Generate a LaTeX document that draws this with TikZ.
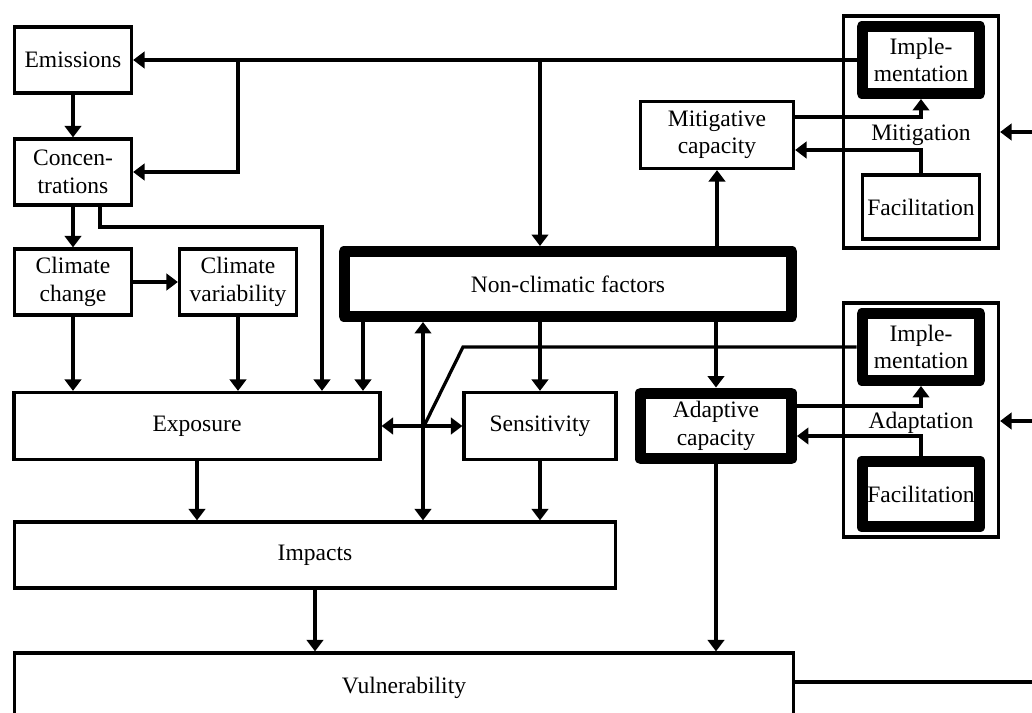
\documentclass[tikz,border=0pt]{standalone}
\usepackage{fontspec}
\setmainfont{Liberation Serif}
\usetikzlibrary{arrows.meta}
\usetikzlibrary{calc}

\begin{document}
\begin{tikzpicture}[x=0.02cm, y=-0.02cm]
\tikzset{
box/.style = {draw, line width=0.065cm, align=center, inner sep=0pt, font=\fontsize{13.4}{15.6}\selectfont},
heavy/.style = {box, line width=0.22cm, line join=round},
group/.style = {draw, line width=0.065cm, minimum width=3.10cm},
label/.style = {inner sep=0pt, font=\fontsize{13.4}{15.6}\selectfont},
line/.style = {draw, line width=0.065cm, -{Triangle[length=0.23cm,width=0.33cm]}},
both/.style = {line, {Triangle[length=0.23cm,width=0.33cm]}-{Triangle[length=0.23cm,width=0.33cm]}},
plain/.style = {draw, line width=0.065cm}
}
\useasboundingbox (0,0) rectangle (1032,713);

     % climate chain
     \node [box, minimum width=2.34cm, minimum height=1.32cm] (emis) at (73,60) {Emissions};
     \node [box, minimum width=2.34cm, minimum height=1.32cm] (conc) at (73,172) {Concen-\\trations};
     \node [box, minimum width=2.34cm, minimum height=1.32cm] (cchange) at (73,282) {Climate\\change};
     \node [box, minimum width=2.34cm, minimum height=1.32cm] (cvar) at (238,282) {Climate\\variability};
     \node [box, minimum width=7.32cm, minimum height=1.34cm] (expo) at (197,426) {Exposure};
     \node [box, minimum width=3.04cm, minimum height=1.34cm] (sens) at (540,426) {Sensitivity};
     \node [heavy, minimum width=8.96cm, minimum height=1.30cm] (ncf) at (568,284) {Non-climatic factors};
     \node [box, minimum width=3.06cm, minimum height=1.34cm] (mitcap) at (717,135) {Mitigative\\capacity};
     \node [heavy, minimum width=3.02cm, minimum height=1.32cm] (adcap) at (716,426) {Adaptive\\capacity};
     \node [box, minimum width=12.02cm, minimum height=1.32cm] (impacts) at (315,555) {Impacts};
     \node [box, minimum width=15.58cm, minimum height=1.40cm] (vuln) at (404,688) {Vulnerability};

     % response groups
     \node [group, minimum height=4.64cm] (mitbox) at (921,132) {};
     \node [label] (mitlabel) at (921,135) {Mitigation};
     \node [heavy, minimum width=2.36cm, minimum height=1.34cm] (impM) at (921,60) {Imple-\\mentation};
     \node [box, minimum width=2.34cm, minimum height=1.28cm] (facM) at (921,207) {Facilitation};
     \node [group, minimum height=4.68cm] (adbox) at (921,420) {};
     \node [label] (adlabel) at (921,423) {Adaptation};
     \node [heavy, minimum width=2.36cm, minimum height=1.34cm] (impA) at (921,347) {Imple-\\mentation};
     \node [heavy, minimum width=2.36cm, minimum height=1.32cm] (facA) at (921,494) {Facilitation};

     \coordinate (jE) at (238,60);
     \coordinate (jN) at (540,60);
     \coordinate (kC) at (100,227);
     \coordinate (kE) at (322,227);
     \coordinate (xN) at (363,0);
     \coordinate (xV) at (423,0);
     \coordinate (dA) at (425,424);
     \coordinate (dB) at (463,347);
     \coordinate (rimM) at (1032,132);
     \coordinate (rimA) at (1032,421);
     \coordinate (rimV) at (1032,682);

     \path [line] (impM.west) -- (emis.east);
     \path [line] (jE) |- (conc.east);
     \path [line] (jN) -- (jN |- ncf.north);
     \path [line] (emis) -- (conc);
     \path [line] (conc) -- (cchange);
     \path [line] (conc.south -| kC) -- (kC) -- (kE) -- (kE |- expo.north);
     \path [line] (cchange) -- (cvar);
     \path [line] (cchange) -- (cchange |- expo.north);
     \path [line] (cvar) -- (cvar |- expo.north);
     \path [line] (ncf.south -| xN) -- (xN |- expo.north);
     \path [both] (xV |- impacts.north) -- (xV |- ncf.south);
     \path [both] (expo) -- (sens);
     \path [plain] (dA) -- (dB) -- (impA.west);
     \path [line] (ncf.south -| sens) -- (sens);
     \path [line] (ncf.south -| adcap) -- (adcap);
     \path [line] (ncf.north -| mitcap) -- (mitcap);
     \path [line] (expo) -- (expo |- impacts.north);
     \path [line] (sens) -- (sens |- impacts.north);
     \path [line] (impacts) -- (impacts |- vuln.north);
     \path [line] (adcap) -- (adcap |- vuln.north);
     \path [plain] (vuln.east |- rimV) -- (rimV);
     \path [line] (rimM) -- (mitbox.east |- rimM);
     \path [line] (rimA) -- (adbox.east |- rimA);

     % capacity loops
     \path [line] ([yshift=0.36cm]mitcap.east) -| (impM);
     \path [line] (facM) |- ([yshift=-0.30cm]mitcap.east);
     \path [line] ([yshift=0.40cm]adcap.east) -| (impA);
     \path [line] (facA) |- ([yshift=-0.20cm]adcap.east);
\end{tikzpicture}
\end{document}
